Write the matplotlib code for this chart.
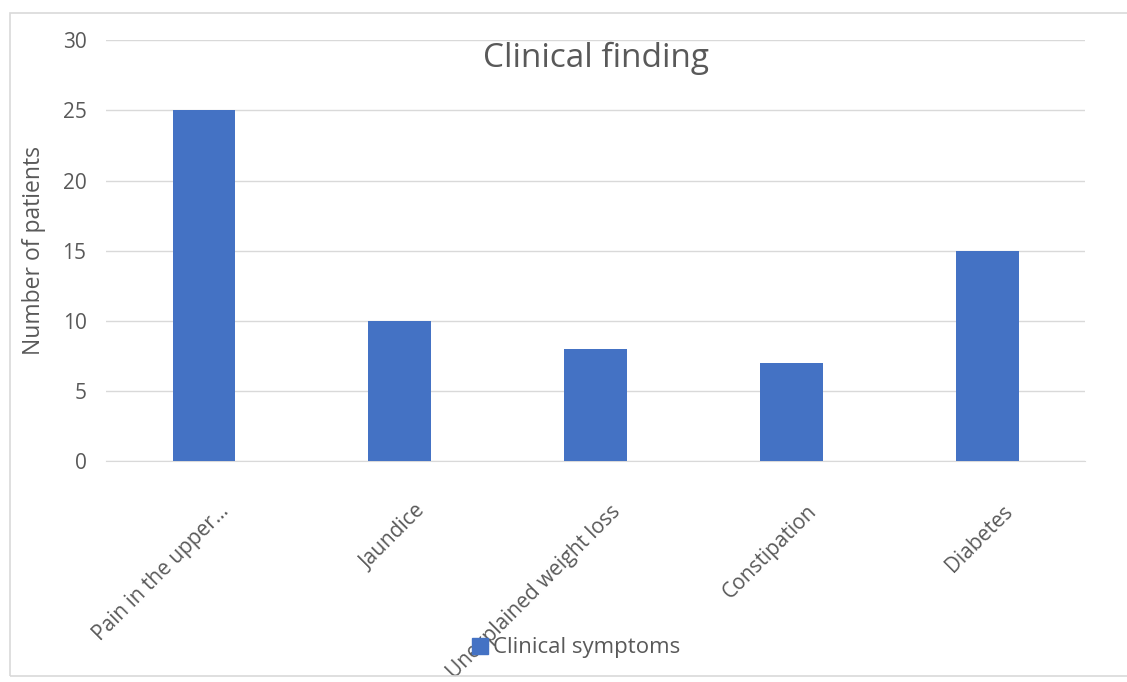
import matplotlib
matplotlib.use("Agg")
import matplotlib.pyplot as plt
import matplotlib.transforms as mtransforms
from matplotlib.patches import Rectangle
from matplotlib.lines import Line2D

plt.rcParams['font.family'] = ['Open Sans', 'DejaVu Sans']

categories = ["Pain in the upper...", "Jaundice", "Unexplained weight loss", "Constipation", "Diabetes"]
patients = [25, 10, 8, 7, 15]
y_ticks = [0, 5, 10, 15, 20, 25, 30]
series_name = "Clinical symptoms"
title = "Clinical finding"

bar_color = "#4472C4"
text_color = "#595959"
grid_color = "#D9D9D9"

fig = plt.figure(figsize=(11.27, 6.82), dpi=100)
ax = fig.add_axes([0.094, 0.324, 0.869, 0.617])

x = range(len(categories))
ax.bar(x, patients, width=0.32, color=bar_color, zorder=3)

ax.set_ylim(0, 30)
ax.set_xlim(-0.5, len(categories) - 0.5)
ax.set_yticks(y_ticks)
ax.grid(axis='y', color=grid_color, linewidth=1, zorder=0)
for s in ['top', 'right', 'left']:
    ax.spines[s].set_visible(False)
ax.spines['bottom'].set_color(grid_color)
ax.tick_params(axis='both', length=0, colors=text_color)
ax.tick_params(axis='y', pad=14, labelsize=15)
ax.tick_params(axis='x', pad=34, labelsize=15)

ax.set_xticks(list(x))
ax.set_xticklabels(categories, rotation=45, ha='right', va='center', rotation_mode='anchor')
shift = mtransforms.ScaledTranslation(22 / 100, 0, fig.dpi_scale_trans)
for lbl in ax.get_xticklabels():
    lbl.set_transform(lbl.get_transform() + shift)

ax.set_ylabel("Number of patients", fontsize=16.5, color=text_color, labelpad=12)
ax.text(0.5, 0.997, title, transform=ax.transAxes, ha='center', va='top',
        fontsize=24, color=text_color)

handle = Line2D([], [], marker='s', linestyle='none', markersize=11,
                markerfacecolor=bar_color, markeredgecolor=bar_color)
fig.legend([handle], [series_name], loc='center', bbox_to_anchor=(0.51, 0.05),
           frameon=False, fontsize=16, labelcolor=text_color, handletextpad=0.1,
           handlelength=1.0)

# chart frame
fig.patches.append(Rectangle((10 / 1127, 6 / 682), 1.2, 663 / 682, transform=fig.transFigure,
                             fill=False, edgecolor="#D9D9D9", linewidth=1.2))

fig.savefig("out.png", dpi=100)
